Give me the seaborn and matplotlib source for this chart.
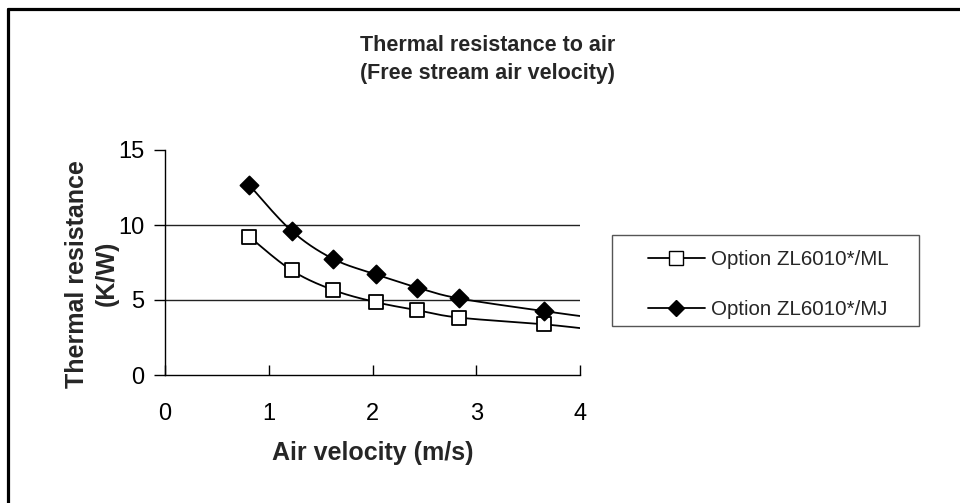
"""Thermal resistance to air vs free stream air velocity."""
import numpy as np
import pandas as pd
import seaborn as sns
import matplotlib
matplotlib.use("Agg")
import matplotlib.pyplot as plt
from matplotlib.lines import Line2D
from matplotlib.patches import Rectangle

# data (last point lies past the x limit)
velocity = [0.81, 1.22, 1.62, 2.03, 2.43, 2.83, 3.65, 4.06]
r_ml = [9.23, 6.98, 5.67, 4.86, 4.32, 3.83, 3.38, 3.08]
r_mj = [12.68, 9.61, 7.74, 6.71, 5.83, 5.11, 4.26, 3.88]
labels = ["Option ZL6010*/ML", "Option ZL6010*/MJ"]
x_ticks = [0, 1, 2, 3, 4]
y_ticks = [0, 5, 10, 15]


def smooth(xs, ys, n=40):
    """ Excel-like smoothed line (Catmull-Rom Bezier)."""
    pts = np.column_stack([xs, ys])
    ext = np.vstack([pts[0], pts, pts[-1]])
    out = []
    for i in range(len(pts) - 1):
        p0, p3 = ext[i + 1], ext[i + 2]
        p1 = p0 + (ext[i + 2] - ext[i]) / 6
        p2 = p3 - (ext[i + 3] - ext[i + 1]) / 6
        t = np.linspace(0, 1, n)[:, None]
        seg = ((1 - t) ** 3 * p0 + 3 * (1 - t) ** 2 * t * p1
               + 3 * (1 - t) * t ** 2 * p2 + t ** 3 * p3)
        out.append(seg if i == 0 else seg[1:])
    out = np.vstack(out)
    return out[:, 0], out[:, 1]


sns.set_theme(style="white")
plt.rcParams["font.family"] = ["Liberation Sans", "DejaVu Sans"]

fig = plt.figure(figsize=(9.6, 5.03), dpi=100)
ax = fig.add_axes([165 / 960, 128 / 503, 415 / 960, 225 / 503])

series = [(r_ml, "s", "white"), (r_mj, "D", "black")]
for vals, mk, fc in series:
    sx, sy = smooth(velocity, vals)
    sns.lineplot(x=sx, y=sy, sort=False, estimator=None, color="black",
                 lw=1.3, ax=ax, legend=False)
    df = pd.DataFrame({"v": velocity, "r": vals})
    df = df[df.v <= 4]
    sns.scatterplot(data=df, x="v", y="r", marker=mk, s=110 if mk == "s" else 85,
                    facecolor=fc, edgecolor="black", linewidth=1.3,
                    ax=ax, legend=False, zorder=3)

ax.set_xlim(0, 4)
ax.set_ylim(0, 15)
ax.set_xticks(x_ticks)
ax.set_yticks(y_ticks)
for yv in y_ticks[1:-1]:
    ax.axhline(yv, color="#222222", lw=1.0, zorder=0)
for side in ["top", "right"]:
    ax.spines[side].set_visible(False)
for side in ["left", "bottom"]:
    ax.spines[side].set_color("black")
    ax.spines[side].set_linewidth(1.0)
ax.tick_params(axis="y", direction="out", length=8, width=1, pad=7,
               labelsize=17, left=True, colors="black")
ax.tick_params(axis="x", direction="in", length=7, width=1, pad=20,
               labelsize=17, bottom=True, colors="black")
ax.set_xlabel("Air velocity (m/s)", fontsize=18, fontweight="bold",
              labelpad=12)
ax.set_ylabel("Thermal resistance\n(K/W)", fontsize=18, fontweight="bold",
              linespacing=1.3)
ax.yaxis.set_label_coords(-0.112, 0.45)

fig.text(0.508, 0.909, "Thermal resistance to air", ha="center",
         va="center", fontsize=15.5, fontweight="bold")
fig.text(0.508, 0.853, "(Free stream air velocity)", ha="center",
         va="center", fontsize=15.5, fontweight="bold")

handles = [Line2D([], [], color="black", lw=1.3, marker="s", ms=10,
                  mfc="white", mec="black"),
           Line2D([], [], color="black", lw=1.3, marker="D", ms=8,
                  mfc="black", mec="black")]
fig.legend(handles, labels, loc="upper left",
           bbox_to_anchor=(648 / 960, 1 - 250 / 503), frameon=False,
           fontsize=14.8, handlelength=2.75, handletextpad=0.3,
           labelspacing=1.5, borderpad=0, borderaxespad=0)
fig.add_artist(Rectangle((612 / 960, 1 - 326 / 503), 307 / 960, 91 / 503,
                         transform=fig.transFigure, fill=False,
                         edgecolor="#555555", lw=1.0))

# outer frame (only the top and left edges are visible)
fig.add_artist(Line2D([8 / 960, 1], [1 - 9 / 503] * 2, color="black", lw=2.3,
                      transform=fig.transFigure))
fig.add_artist(Line2D([8 / 960] * 2, [0, 1 - 9 / 503], color="black", lw=2.3,
                      transform=fig.transFigure))

fig.savefig("out.png", dpi=100)
